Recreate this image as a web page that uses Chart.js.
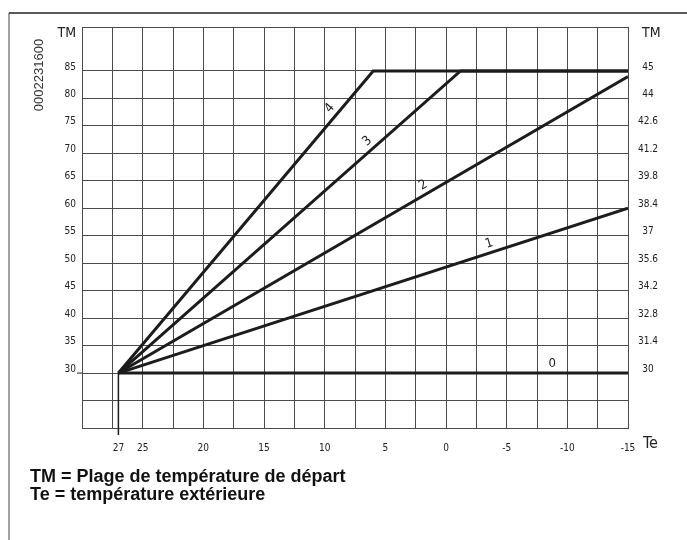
<!DOCTYPE html>
<html lang="fr">
<head>
<meta charset="utf-8">
<title>Courbes de chauffe</title>
<script src="https://cdn.jsdelivr.net/npm/chart.js@4.4.1/dist/chart.umd.min.js"></script>
<style>
  html, body { margin: 0; padding: 0; background: #fff; }
  #wrap { position: relative; width: 687px; height: 540px; }
</style>
</head>
<body>
<div id="wrap"><canvas id="curves" width="687" height="540"></canvas></div>
<script>
// heating curves: flow temperature TM against outdoor temperature Te
const curveNames = ['0', '1', '2', '3', '4'];
const curveTe = [
  [27, -15],
  [27, -15],
  [27, -15],
  [27, -1.2, -15],
  [27, 6, -15],
];
const curveTM = [
  [30, 30],
  [30, 60],
  [30, 84],
  [30, 85, 85],
  [30, 85, 85],
];

// tick labels
const teLabels = [27, 25, 20, 15, 10, 5, 0, -5, -10, -15];
const tmLeft = [30, 35, 40, 45, 50, 55, 60, 65, 70, 75, 80, 85];
const tmRight = ['30', '31.4', '32.8', '34.2', '35.6', '37', '38.4', '39.8', '41.2', '42.6', '44', '45'];

// Te value along each curve where its number is written
const nameAt = [-8.75, -3.8, 1.5, 6, 9];

const ink = '#1c1c1c';
const gridInk = '#4a4a4a';
const numFont = '"DejaVu Sans Condensed", "Liberation Sans Narrow", sans-serif';
const narrowFont = '"Liberation Sans Narrow", "DejaVu Sans Condensed", sans-serif';

Chart.defaults.font.family = numFont;
Chart.defaults.color = '#222';

const datasets = curveNames.map((name, i) => ({
  label: name,
  data: curveTe[i].map((te, j) => ({ x: te, y: curveTM[i][j] })),
  borderColor: ink,
  borderWidth: 3,
  pointRadius: 0,
  tension: 0,
  fill: false,
}));

function stroke(ctx, x0, y0, x1, y1) {
  ctx.beginPath();
  ctx.moveTo(x0, y0);
  ctx.lineTo(x1, y1);
  ctx.stroke();
}

const extras = {
  id: 'extras',
  beforeDraw(chart) {
    const ctx = chart.ctx;
    ctx.save();
    ctx.fillStyle = '#fff';
    ctx.fillRect(0, 0, chart.width, chart.height);
    // page frame (left and top)
    ctx.lineWidth = 1.5;
    ctx.strokeStyle = '#808080';
    stroke(ctx, 9, chart.height, 9, 13);
    ctx.strokeStyle = '#222';
    stroke(ctx, 9, 13, chart.width, 13);
    ctx.restore();
  },
  afterDraw(chart) {
    const { ctx, chartArea: a, scales: { x, y } } = chart;
    ctx.save();

    // origin marker at Te 27 / TM 30
    const x27 = x.getPixelForValue(27);
    const y30 = y.getPixelForValue(30);
    ctx.strokeStyle = ink;
    ctx.lineWidth = 1.5;
    stroke(ctx, x27, y30, x27, a.bottom + 7);
    ctx.lineWidth = 1;
    stroke(ctx, a.left - 5, y30, a.left, y30);

    // axis names
    ctx.fillStyle = '#222';
    ctx.textBaseline = 'middle';
    ctx.font = '14px ' + narrowFont;
    ctx.textAlign = 'right';
    ctx.fillText('TM', a.left - 6, 33);
    ctx.textAlign = 'left';
    ctx.fillText('TM', a.right + 14, 33);
    ctx.font = '16px ' + narrowFont;
    ctx.fillText('Te', a.right + 15, 444);

    // curve numbers, written along each line
    ctx.font = '13px ' + numFont;
    ctx.textAlign = 'center';
    curveNames.forEach((name, i) => {
      const te = curveTe[i], tm = curveTM[i], at = nameAt[i];
      let k = 0;
      while (k < te.length - 2 && te[k + 1] > at) k++;
      const x0 = x.getPixelForValue(te[k]), y0 = y.getPixelForValue(tm[k]);
      const x1 = x.getPixelForValue(te[k + 1]), y1 = y.getPixelForValue(tm[k + 1]);
      const f = (at - te[k]) / (te[k + 1] - te[k]);
      const px = x0 + (x1 - x0) * f, py = y0 + (y1 - y0) * f;
      const dx = x1 - x0, dy = y1 - y0, len = Math.hypot(dx, dy);
      ctx.save();
      ctx.translate(px + 9 * dy / len, py - 9 * dx / len);
      ctx.rotate(Math.atan2(dy, dx));
      ctx.fillText(name, 0, 0);
      ctx.restore();
    });

    // drawing number, vertical
    ctx.save();
    ctx.translate(39, 75);
    ctx.rotate(-Math.PI / 2);
    ctx.font = '13px "Liberation Sans", Arial, sans-serif';
    ctx.fillStyle = '#333';
    ctx.fillText('0002231600', 0, 0);
    ctx.restore();

    // legend notes
    ctx.font = 'bold 18px "Liberation Sans", Arial, sans-serif';
    ctx.fillStyle = '#111';
    ctx.textAlign = 'left';
    ctx.textBaseline = 'alphabetic';
    ctx.fillText('TM = Plage de température de départ', 30, 482);
    ctx.fillText('Te = température extérieure', 30, 500);

    ctx.restore();
  },
};

new Chart(document.getElementById('curves'), {
  type: 'line',
  data: { datasets },
  plugins: [extras],
  options: {
    responsive: false,
    animation: false,
    layout: { padding: { top: 27, left: 0, right: 0, bottom: 0 } },
    plugins: { legend: { display: false }, tooltip: { enabled: false } },
    scales: {
      x: {
        type: 'linear',
        reverse: true,
        min: -15,
        max: 30,
        afterBuildTicks(axis) {
          const t = [];
          for (let v = -15; v <= 30; v += 2.5) t.push({ value: v });
          t.push({ value: 27 });
          axis.ticks = t.sort((p, q) => p.value - q.value);
        },
        afterFit(axis) { axis.height = 112; },
        ticks: {
          autoSkip: false,
          maxRotation: 0,
          padding: 14,
          font: { size: 10 },
          callback: (v) => (teLabels.includes(v) ? String(v) : ''),
        },
        grid: {
          drawTicks: false,
          color: (c) => (c.tick && c.tick.value === 27 ? 'rgba(0,0,0,0)' : gridInk),
          lineWidth: 1,
        },
        border: { color: gridInk, width: 1 },
      },
      y: {
        type: 'linear',
        position: 'left',
        min: 20,
        max: 93,
        afterBuildTicks(axis) {
          const t = [];
          for (let v = 20; v <= 85; v += 5) t.push({ value: v });
          t.push({ value: 93 });
          axis.ticks = t;
        },
        afterFit(axis) { axis.width = 82; },
        ticks: {
          padding: 6,
          labelOffset: -4,
          font: { size: 10 },
          callback: (v) => (tmLeft.includes(v) ? String(v) : ''),
        },
        grid: { drawTicks: false, color: gridInk, lineWidth: 1 },
        border: { color: gridInk, width: 1 },
      },
      y2: {
        type: 'linear',
        position: 'right',
        min: 20,
        max: 93,
        afterBuildTicks(axis) {
          axis.ticks = tmLeft.map((v) => ({ value: v }));
        },
        afterFit(axis) { axis.width = 59; },
        ticks: {
          padding: 10,
          labelOffset: -4,
          crossAlign: 'center',
          font: { size: 10 },
          callback: (v) => tmRight[tmLeft.indexOf(v)],
        },
        grid: { display: false, drawTicks: false },
        border: { color: gridInk, width: 1 },
      },
    },
  },
});
</script>
</body>
</html>
